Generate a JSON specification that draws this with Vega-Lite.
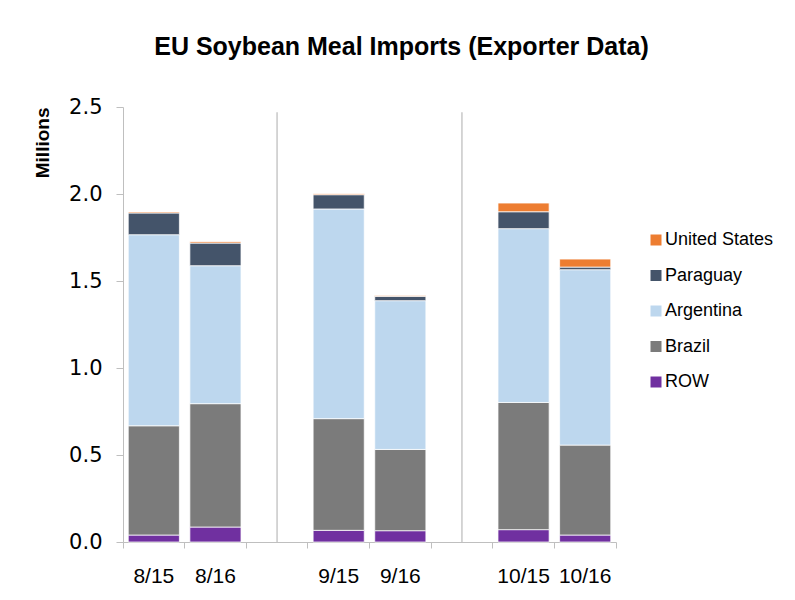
{
  "$schema": "https://vega.github.io/schema/vega-lite/v6.json",
  "width": 493,
  "height": 435,
  "autosize": {"type": "none"},
  "padding": {"left": 123, "top": 107, "right": 179, "bottom": 58},
  "background": "white",
  "title": {
    "text": "EU Soybean Meal Imports (Exporter Data)",
    "font": "Liberation Sans",
    "fontSize": 25,
    "fontWeight": "bold",
    "color": "#000000",
    "anchor": "middle",
    "dx": 32,
    "offset": 36
  },
  "datasets": {
    "bars": [
      {"period": "8/15", "exporter": "ROW", "value": 0.040},
      {"period": "8/15", "exporter": "Brazil", "value": 0.628},
      {"period": "8/15", "exporter": "Argentina", "value": 1.098},
      {"period": "8/15", "exporter": "Paraguay", "value": 0.125},
      {"period": "8/15", "exporter": "United States", "value": 0.006},
      {"period": "8/16", "exporter": "ROW", "value": 0.086},
      {"period": "8/16", "exporter": "Brazil", "value": 0.709},
      {"period": "8/16", "exporter": "Argentina", "value": 0.793},
      {"period": "8/16", "exporter": "Paraguay", "value": 0.130},
      {"period": "8/16", "exporter": "United States", "value": 0.008},
      {"period": "9/15", "exporter": "ROW", "value": 0.067},
      {"period": "9/15", "exporter": "Brazil", "value": 0.642},
      {"period": "9/15", "exporter": "Argentina", "value": 1.205},
      {"period": "9/15", "exporter": "Paraguay", "value": 0.082},
      {"period": "9/15", "exporter": "United States", "value": 0.006},
      {"period": "9/16", "exporter": "ROW", "value": 0.065},
      {"period": "9/16", "exporter": "Brazil", "value": 0.467},
      {"period": "9/16", "exporter": "Argentina", "value": 0.855},
      {"period": "9/16", "exporter": "Paraguay", "value": 0.025},
      {"period": "9/16", "exporter": "United States", "value": 0.004},
      {"period": "10/15", "exporter": "ROW", "value": 0.071},
      {"period": "10/15", "exporter": "Brazil", "value": 0.731},
      {"period": "10/15", "exporter": "Argentina", "value": 0.999},
      {"period": "10/15", "exporter": "Paraguay", "value": 0.097},
      {"period": "10/15", "exporter": "United States", "value": 0.050},
      {"period": "10/16", "exporter": "ROW", "value": 0.040},
      {"period": "10/16", "exporter": "Brazil", "value": 0.517},
      {"period": "10/16", "exporter": "Argentina", "value": 1.008},
      {"period": "10/16", "exporter": "Paraguay", "value": 0.015},
      {"period": "10/16", "exporter": "United States", "value": 0.046}
    ],
    "sep": [{"period": " "}, {"period": "  "}]
  },
  "layer": [
    {
      "data": {"name": "bars"},
      "transform": [
        {"calculate": "indexof(['ROW','Brazil','Argentina','Paraguay','United States'], datum.exporter)", "as": "rank"}
      ],
      "mark": {"type": "bar", "width": {"band": 0.83}, "stroke": "white", "strokeWidth": 0.75},
      "encoding": {
        "x": {
          "field": "period",
          "type": "nominal",
          "scale": {"domain": ["8/15", "8/16", " ", "9/15", "9/16", "  ", "10/15", "10/16"], "paddingInner": 0, "paddingOuter": 0},
          "axis": {
            "title": null,
            "bandPosition": 1,
            "tickExtra": true,
            "domainColor": "#bfbfbf",
            "tickColor": "#bfbfbf",
            "tickSize": 6,
            "labelFont": "Liberation Sans",
            "labelFontSize": 21,
            "labelColor": "#000000",
            "labelPadding": 17,
            "labelAngle": 0
          }
        },
        "y": {
          "field": "value",
          "type": "quantitative",
          "stack": "zero",
          "scale": {"domain": [0, 2.5], "nice": false},
          "axis": {
            "title": "Millions",
            "titleFont": "Liberation Sans",
            "titleFontSize": 19,
            "titleFontWeight": "bold",
            "titleColor": "#000000",
            "titleAnchor": "end",
            "titlePadding": 16,
            "values": [0, 0.5, 1, 1.5, 2, 2.5],
            "format": ".1f",
            "labelFont": "DejaVu Sans",
            "labelFontSize": 21,
            "labelColor": "#000000",
            "labelPadding": 14,
            "tickSize": 7,
            "tickColor": "#bfbfbf",
            "domainColor": "#bfbfbf",
            "grid": false
          }
        },
        "color": {
          "field": "exporter",
          "type": "nominal",
          "scale": {
            "domain": ["United States", "Paraguay", "Argentina", "Brazil", "ROW"],
            "range": ["#ED7D31", "#44546A", "#BDD7EE", "#7B7B7B", "#7030A0"]
          },
          "legend": {
            "title": null,
            "orient": "none",
            "legendX": 524,
            "legendY": 124,
            "symbolType": "square",
            "symbolSize": 121,
            "symbolStrokeWidth": 0,
            "labelFont": "Liberation Sans",
            "labelFontSize": 18,
            "labelColor": "#000000",
            "rowPadding": 17.5,
            "labelOffset": 0
          }
        },
        "order": {"field": "rank", "type": "quantitative", "sort": "ascending"}
      }
    },
    {
      "data": {"name": "sep"},
      "mark": {"type": "rule", "color": "#c8c8c8", "strokeWidth": 1.5},
      "encoding": {
        "x": {"field": "period", "type": "nominal"},
        "y": {"datum": 2.47},
        "y2": {"datum": 0}
      }
    }
  ],
  "config": {"view": {"stroke": null}}
}
